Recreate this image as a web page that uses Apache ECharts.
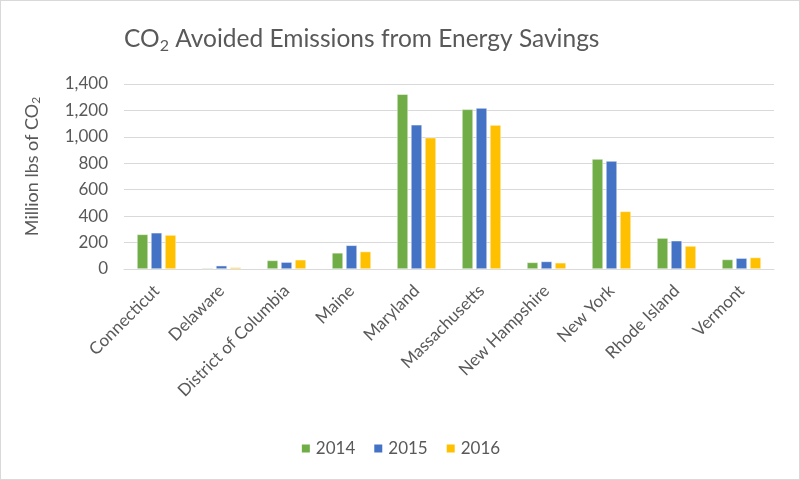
<!DOCTYPE html>
<html><head><meta charset="utf-8">
<script src="https://cdn.jsdelivr.net/npm/echarts@6/dist/echarts.min.js"></script>
<style>html,body{margin:0;padding:0;background:#fff}#c{width:798px;height:478px;border:1px solid #D9D9D9}</style>
</head><body><div id="c"></div>
<script>
const categories = ['Connecticut','Delaware','District of Columbia','Maine','Maryland','Massachusetts','New Hampshire','New York','Rhode Island','Vermont'];
const s2014 = [262, 7, 65, 122, 1323, 1208, 50, 832, 234, 72];
const s2015 = [274, 25, 52, 179, 1091, 1218, 57, 817, 214, 82];
const s2016 = [257, 12, 70, 132, 994, 1089, 47, 436, 174, 87];
const yTicks = [0, 200, 400, 600, 800, 1000, 1200, 1400];

const FONT = 'Lato';
const TXT = '#595959';
const chart = echarts.init(document.getElementById('c'));
function bar(name, data, color){
  return {name, type:'bar', data, barGap:'27%', barCategoryGap:'40%',
    itemStyle:{color, borderColor:'#fff', borderWidth:0.5}};
}
chart.setOption({
  textStyle:{fontFamily:FONT},
  title:{
    text:'{a|CO}{b|2}{a| Avoided Emissions from Energy Savings}',
    left:118, top:19,
    textStyle:{fontWeight:'normal', rich:{
      a:{fontSize:24.5, color:TXT, fontFamily:FONT, fontWeight:'normal'},
      b:{fontSize:16, color:TXT, fontFamily:FONT, fontWeight:'normal', padding:[13,0,0,0]}
    }}
  },
  legend:{
    bottom:17, left:'center', itemWidth:10, itemHeight:10, itemGap:17,
    icon:'rect',
    textStyle:{fontSize:17, color:TXT, fontFamily:FONT}
  },
  grid:{left:123, right:25, top:83, bottom:210},
  xAxis:{
    type:'category', data:categories,
    axisTick:{show:false},
    axisLine:{lineStyle:{color:'#D9D9D9'}},
    axisLabel:{interval:0, rotate:45, fontSize:17, color:TXT, fontFamily:FONT, margin:19}
  },
  yAxis:{
    type:'value', min:yTicks[0], max:yTicks[yTicks.length-1], interval:200,
    name:'{a|Million lbs of CO}{b|2}',
    nameLocation:'middle', nameGap:82,
    nameTextStyle:{padding:[0,0,0,20], rich:{
      a:{fontSize:18, color:TXT, fontFamily:FONT},
      b:{fontSize:12, color:TXT, fontFamily:FONT, padding:[8,0,0,0]}
    }},
    axisLabel:{fontSize:17, color:TXT, fontFamily:FONT, margin:16,
      formatter:v=>v.toLocaleString('en-US')},
    splitLine:{lineStyle:{color:'#D9D9D9'}}
  },
  series:[bar('2014', s2014, '#70AD47'), bar('2015', s2015, '#4472C4'), bar('2016', s2016, '#FFC000')]
});
</script></body></html>
